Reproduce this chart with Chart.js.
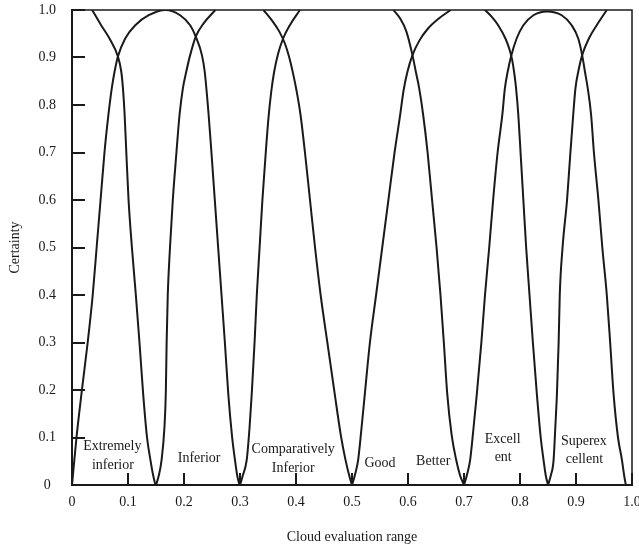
<!DOCTYPE html>
<html>
<head>
<meta charset="utf-8">
<script src="https://cdn.jsdelivr.net/npm/chart.js@4.4.0/dist/chart.umd.min.js"></script>
<style>
  html, body { margin: 0; padding: 0; background: #fff; }
  canvas { display: block; }
</style>
</head>
<body>
<canvas id="cloudChart" width="639" height="550"></canvas>
<script>
// cloud curves (x = evaluation value, y = certainty)
// null = the curve runs along the top edge (certainty 1) there
const cloud1X = [0.036, 0.052, 0.067, 0.082, 0.088, 0.091, 0.094, 0.097, 0.101, 0.107, 0.114, 0.1205, 0.127, 0.134, 0.14, 0.145, 0.149];
const cloud1Y = [1, 0.968, 0.94, 0.902, 0.87, 0.835, 0.779, 0.7, 0.6, 0.5, 0.4, 0.3, 0.193, 0.1, 0.053, 0.02, 0];

const cloud2X = [0, 0.008, 0.017, 0.028, 0.037, 0.044, 0.051, 0.058, 0.065, 0.071, 0.076, 0.082, 0.095, 0.113, 0.137, 0.167, 0.193, 0.211, 0.221, 0.232, 0.237, 0.244, 0.249, 0.255, 0.261, 0.267, 0.273, 0.279, 0.286, 0.291, 0.295, 0.299];
const cloud2Y = [0, 0.1, 0.193, 0.3, 0.4, 0.5, 0.6, 0.7, 0.779, 0.835, 0.87, 0.902, 0.94, 0.968, 0.989, 1, 0.989, 0.968, 0.944, 0.905, 0.87, 0.779, 0.7, 0.6, 0.5, 0.4, 0.3, 0.193, 0.1, 0.053, 0.02, 0];

const cloud3X = [0.15, 0.155, 0.16, 0.165, 0.1675, 0.169, 0.171, 0.175, 0.18, 0.1865, 0.192, 0.198, 0.204, 0.211, 0.221, 0.235, 0.256, 0.3, 0.342, 0.357, 0.37, 0.38, 0.388, 0.395, 0.401, 0.408, 0.416, 0.425, 0.434, 0.444, 0.456, 0.469, 0.48, 0.488, 0.495, 0.5];
const cloud3Y = [0, 0.02, 0.053, 0.12, 0.193, 0.3, 0.4, 0.5, 0.6, 0.7, 0.779, 0.835, 0.87, 0.905, 0.944, 0.972, 1, null, 1, 0.978, 0.955, 0.93, 0.9, 0.865, 0.83, 0.78, 0.7, 0.6, 0.5, 0.4, 0.3, 0.193, 0.105, 0.055, 0.02, 0];

const cloud4X = [0.3, 0.305, 0.312, 0.317, 0.321, 0.326, 0.33, 0.335, 0.34, 0.346, 0.351, 0.356, 0.361, 0.368, 0.377, 0.389, 0.407, 0.49, 0.574, 0.586, 0.597, 0.608, 0.614, 0.62, 0.627, 0.635, 0.643, 0.651, 0.658, 0.664, 0.67, 0.678, 0.686, 0.693, 0.7];
const cloud4Y = [0, 0.02, 0.053, 0.12, 0.193, 0.3, 0.4, 0.5, 0.6, 0.7, 0.775, 0.83, 0.87, 0.908, 0.94, 0.968, 1, null, 1, 0.982, 0.955, 0.905, 0.87, 0.835, 0.78, 0.7, 0.6, 0.5, 0.4, 0.3, 0.193, 0.105, 0.053, 0.02, 0];

const cloud5X = [0.5, 0.505, 0.511, 0.517, 0.523, 0.532, 0.543, 0.554, 0.565, 0.576, 0.586, 0.592, 0.599, 0.608, 0.62, 0.635, 0.655, 0.676, 0.707, 0.7375, 0.75, 0.761, 0.774, 0.781, 0.786, 0.79, 0.793, 0.797, 0.801, 0.806, 0.811, 0.817, 0.823, 0.83, 0.837, 0.842, 0.846, 0.85];
const cloud5Y = [0, 0.02, 0.053, 0.12, 0.193, 0.3, 0.4, 0.5, 0.6, 0.7, 0.779, 0.83, 0.87, 0.905, 0.935, 0.96, 0.982, 1, null, 1, 0.985, 0.968, 0.94, 0.918, 0.895, 0.865, 0.835, 0.779, 0.7, 0.6, 0.5, 0.4, 0.3, 0.193, 0.1, 0.053, 0.02, 0];

const cloud6X = [0.7, 0.705, 0.711, 0.717, 0.723, 0.731, 0.7375, 0.745, 0.752, 0.76, 0.7684, 0.773, 0.778, 0.784, 0.794, 0.806, 0.824, 0.848, 0.8745, 0.8923, 0.904, 0.911, 0.916, 0.921, 0.927, 0.932, 0.94, 0.947, 0.955, 0.961, 0.967, 0.975, 0.982, 0.986, 0.989];
const cloud6Y = [0, 0.02, 0.053, 0.12, 0.193, 0.3, 0.4, 0.5, 0.6, 0.7, 0.779, 0.835, 0.87, 0.902, 0.94, 0.968, 0.989, 0.997, 0.989, 0.968, 0.94, 0.905, 0.87, 0.835, 0.779, 0.7, 0.6, 0.5, 0.4, 0.3, 0.193, 0.1, 0.053, 0.02, 0];

const cloud7X = [0.85, 0.855, 0.86, 0.863, 0.866, 0.869, 0.871, 0.876, 0.884, 0.89, 0.895, 0.899, 0.904, 0.911, 0.923, 0.937, 0.955];
const cloud7Y = [0, 0.02, 0.053, 0.12, 0.193, 0.3, 0.4, 0.5, 0.6, 0.7, 0.779, 0.835, 0.87, 0.905, 0.94, 0.968, 1];

const xTickLabels = ['0', '0.1', '0.2', '0.3', '0.4', '0.5', '0.6', '0.7', '0.8', '0.9', '1.0'];
const yTickLabels = ['0', '0.1', '0.2', '0.3', '0.4', '0.5', '0.6', '0.7', '0.8', '0.9', '1.0'];

// grade names written inside the plot, one entry per text line
const gradeText = ['Extremely', 'inferior', 'Inferior', 'Comparatively', 'Inferior', 'Good', 'Better', 'Excell', 'ent', 'Superex', 'cellent'];
const gradeX = [0.072, 0.073, 0.227, 0.395, 0.395, 0.55, 0.645, 0.769, 0.77, 0.914, 0.915];
const gradeY = [0.082, 0.042, 0.057, 0.076, 0.036, 0.046, 0.05, 0.097, 0.059, 0.092, 0.055];

const ink = '#1a1a1a';
const serif = 'Liberation Serif, Times New Roman, serif';

const curves = [
  [cloud1X, cloud1Y], [cloud2X, cloud2Y], [cloud3X, cloud3Y], [cloud4X, cloud4Y],
  [cloud5X, cloud5Y], [cloud6X, cloud6Y], [cloud7X, cloud7Y]
];

const datasets = curves.map(([xs, ys], i) => ({
  label: 'cloud ' + (i + 1),
  data: xs.map((x, k) => ({ x: x, y: ys[k] })),
  borderColor: ink,
  borderWidth: 2,
  pointRadius: 0,
  fill: false,
  showLine: true,
  spanGaps: false,
  cubicInterpolationMode: 'monotone'
}));

// inward tick marks, thin top/right frame and the grade names
const framePlugin = {
  id: 'frame',
  afterDatasetsDraw(chart) {
    const { ctx, chartArea: a, scales: { x, y } } = chart;
    ctx.save();
    ctx.strokeStyle = ink;
    ctx.lineWidth = 1.5;
    ctx.beginPath();
    ctx.moveTo(a.left, a.top);
    ctx.lineTo(a.right, a.top);
    ctx.lineTo(a.right, a.bottom);
    ctx.stroke();

    ctx.lineWidth = 2;
    ctx.beginPath();
    x.ticks.forEach(t => {
      const px = Math.round(x.getPixelForValue(t.value));
      ctx.moveTo(px, a.bottom);
      ctx.lineTo(px, a.bottom - 12);
    });
    y.ticks.forEach(t => {
      const py = Math.round(y.getPixelForValue(t.value));
      ctx.moveTo(a.left, py);
      ctx.lineTo(a.left + 13, py);
    });
    ctx.stroke();

    ctx.fillStyle = ink;
    ctx.font = '14px ' + serif;
    ctx.textAlign = 'center';
    ctx.textBaseline = 'middle';
    gradeText.forEach((txt, i) => {
      ctx.fillText(txt, x.getPixelForValue(gradeX[i]), y.getPixelForValue(gradeY[i]));
    });
    ctx.restore();
  }
};

new Chart(document.getElementById('cloudChart'), {
  type: 'scatter',
  data: { datasets },
  options: {
    responsive: false,
    animation: false,
    layout: { padding: { top: 10, right: 7, left: 0, bottom: 0 } },
    plugins: {
      legend: { display: false },
      tooltip: { enabled: false }
    },
    scales: {
      x: {
        type: 'linear',
        min: 0,
        max: 1,
        grid: { display: false, drawTicks: false },
        border: { display: true, color: ink, width: 2 },
        ticks: {
          stepSize: 0.1,
          maxRotation: 0,
          autoSkip: false,
          padding: 9,
          color: ink,
          font: { family: serif, size: 14 },
          callback: (v, i) => xTickLabels[i]
        },
        title: {
          display: true,
          text: 'Cloud evaluation range',
          color: ink,
          font: { family: serif, size: 14 },
          padding: { top: 0, bottom: 4 }
        },
        afterFit(scale) {
          scale.height = 65;
          scale.paddingLeft = 0;
          scale.paddingRight = 0;
        }
      },
      y: {
        type: 'linear',
        min: 0,
        max: 1,
        grid: { display: false, drawTicks: false },
        border: { display: true, color: ink, width: 2 },
        ticks: {
          stepSize: 0.1,
          autoSkip: false,
          padding: 16,
          crossAlign: 'center',
          color: ink,
          font: { family: serif, size: 14 },
          callback: (v, i) => yTickLabels[i]
        },
        title: {
          display: true,
          text: 'Certainty',
          color: ink,
          font: { family: serif, size: 14 },
          padding: { top: 7, bottom: 0 }
        },
        afterFit(scale) {
          scale.width = 72;
          scale.paddingTop = 0;
          scale.paddingBottom = 0;
        }
      }
    }
  },
  plugins: [framePlugin]
});
</script>
</body>
</html>
